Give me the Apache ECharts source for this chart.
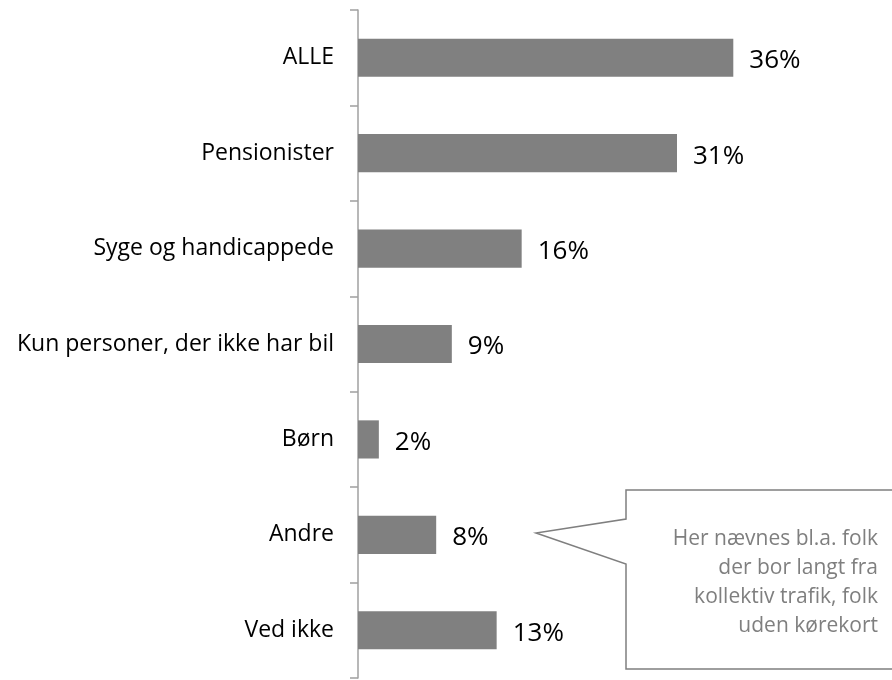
<!DOCTYPE html>
<html>
<head>
<meta charset="utf-8">
<script src="https://cdn.jsdelivr.net/npm/echarts@6/dist/echarts.min.js"></script>
<style>
  html, body { margin: 0; padding: 0; background: #fff; }
  #chart { width: 892px; height: 680px; }
</style>
</head>
<body>
<div id="chart"></div>
<script>
// kategorier (oppefra og ned)
const categories = ['ALLE', 'Pensionister', 'Syge og handicappede', 'Kun personer, der ikke har bil', 'Børn', 'Andre', 'Ved ikke'];
// andel i procent, aflæst fra søjlernes længde
const values = [36.0, 30.6, 15.7, 9.0, 2.0, 7.5, 13.3];
// tekst i boblen
const noteLines = ['Her nævnes bl.a. folk', 'der bor langt fra', 'kollektiv trafik, folk', 'uden kørekort'];

const font = '"Open Sans", "Noto Sans", sans-serif';
const chart = echarts.init(document.getElementById('chart'));

const option = {
  animation: false,
  grid: { left: 358, top: 10, width: 417, height: 668 },
  xAxis: {
    type: 'value',
    min: 0,
    max: 40,
    show: false
  },
  yAxis: {
    type: 'category',
    inverse: true,
    data: categories,
    axisLine: { show: true, lineStyle: { color: '#a0a0a0', width: 1.5 } },
    axisTick: { show: true, alignWithLabel: false, length: 8, lineStyle: { color: '#a0a0a0', width: 1.5 } },
    axisLabel: { margin: 24, color: '#000', fontSize: 23, fontFamily: font }
  },
  series: [{
    type: 'bar',
    data: values,
    barCategoryGap: '60%',
    itemStyle: { color: '#808080' },
    label: {
      show: true,
      position: 'right',
      distance: 16,
      offset: [0, 3],
      color: '#000',
      fontSize: 26,
      fontFamily: font,
      formatter: p => Math.round(p.value) + '%'
    }
  }],
  graphic: [
    {
      type: 'polygon',
      shape: {
        points: [[626, 490], [900, 490], [900, 669], [626, 669], [626, 564], [536, 533], [626, 519]]
      },
      style: { fill: '#fff', stroke: '#7f7f7f', lineWidth: 1.5 }
    },
    {
      type: 'text',
      x: 878,
      y: 525,
      style: {
        text: noteLines.join('\n'),
        align: 'right',
        verticalAlign: 'top',
        fill: '#7f7f7f',
        fontSize: 21,
        lineHeight: 29,
        fontFamily: font
      }
    }
  ]
};
chart.setOption(option);
</script>
</body>
</html>
